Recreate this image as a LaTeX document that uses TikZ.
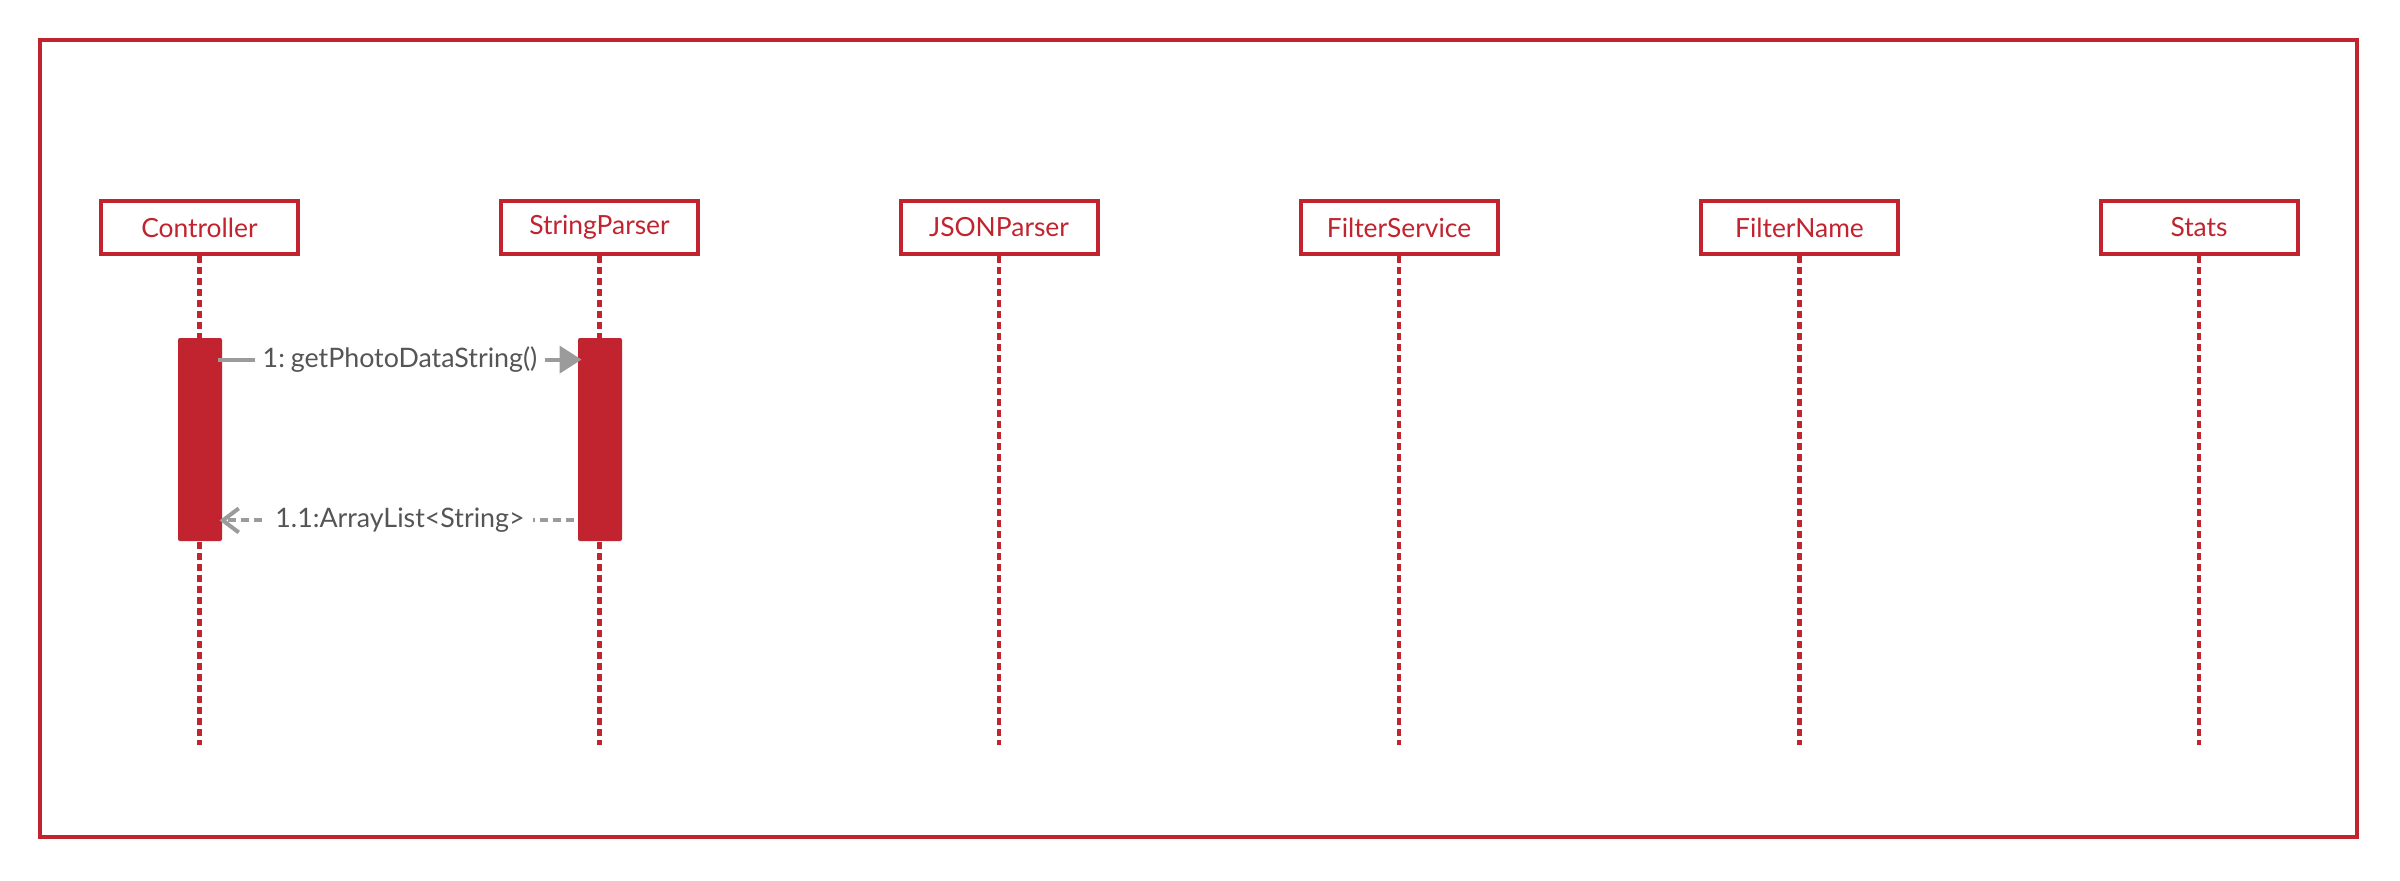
\documentclass[tikz,border=0pt]{standalone}
\usepackage{fontspec}
\setmainfont{Lato}
\usetikzlibrary{arrows.meta}
\definecolor{umlred}{HTML}{C1232F}
\definecolor{msggray}{HTML}{9B9B9B}
\definecolor{txtgray}{HTML}{555555}
\begin{document}
\begin{tikzpicture}[x=0.5pt,y=-0.5pt,
  objbox/.style={draw=umlred,line width=2pt,fill=white,minimum width=98.5pt,minimum height=26.5pt,inner sep=0pt,text=umlred,font=\fontsize{13.2pt}{16pt}\selectfont},
  lifeline/.style={umlred,line width=2.2pt,dash pattern=on 3.5pt off 2pt},
  actbar/.style={fill=umlred,draw=none,rounded corners=1pt,minimum width=22pt,minimum height=101.5pt,inner sep=0pt},
  callmsg/.style={msggray,line width=2pt,-{Triangle[length=11pt,width=13.5pt]}},
  retmsg/.style={msggray,line width=2pt,dash pattern=on 4pt off 2.5pt,-{Straight Barb[length=8pt,width=12pt,line width=2pt]}},
  msglabel/.style={fill=white,text=txtgray,inner xsep=4pt,inner ysep=2pt,font=\fontsize{13.4pt}{16pt}\selectfont}]
\useasboundingbox (0,0) rectangle (2400,880);
\draw[umlred,line width=2pt] (40,40) rectangle (2357,837);
% objects
\node[objbox] (ctrl) at (199.5,227.5) {Controller};
\node[objbox] (sp) at (599.5,227.5) {StringParser};
\node[objbox] (json) at (999,227.5) {JSONParser};
\node[objbox] (fs) at (1399,227.5) {FilterService};
\node[objbox] (fn) at (1799.5,227.5) {FilterName};
\node[objbox] (st) at (2199,227.5) {Stats};
% lifeline ends
\coordinate (ctrlE) at (199.5,745);
\coordinate (spE) at (599.5,745);
\coordinate (jsonE) at (999,745);
\coordinate (fsE) at (1399,745);
\coordinate (fnE) at (1799.5,745);
\coordinate (stE) at (2199,745);
\foreach \o in {ctrl,sp,json,fs,fn,st}{
  \draw[lifeline] (\o.south) -- (\o E);
}
% activation bars
\node[actbar] (cbar) at (200,439.5) {};
\node[actbar] (spbar) at (600,439.5) {};
% messages
\draw[callmsg,shorten >=-2pt,shorten <=-2pt] ([yshift=-11pt]cbar.north east) -- node[msglabel] {1:\hspace{0.22em}getPhotoDataString()} ([yshift=-11pt]spbar.north west);
\draw[retmsg,shorten >=-1.5pt,shorten <=2pt] ([yshift=10.5pt]spbar.south west) -- node[msglabel] {1.1:ArrayList<String>} ([yshift=10.5pt]cbar.south east);
\end{tikzpicture}
\end{document}
